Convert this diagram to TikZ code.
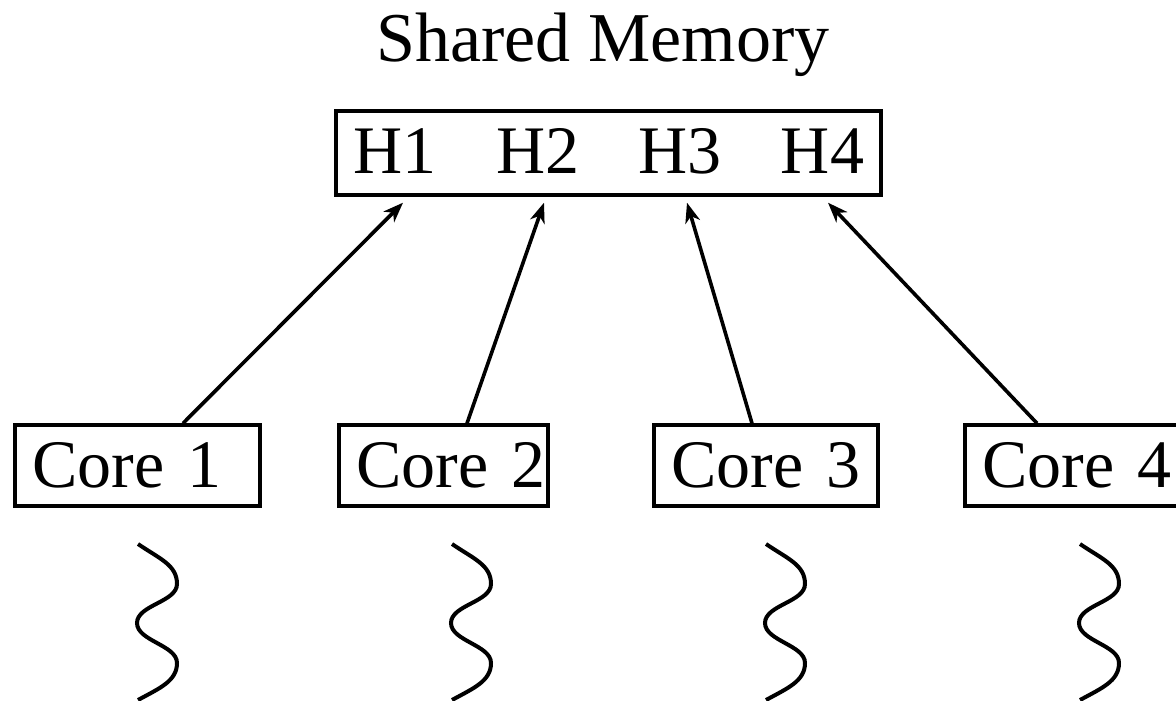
\documentclass[tikz,border=0pt]{standalone}
\usepackage{fontspec}
\setmainfont{Liberation Serif}
\usetikzlibrary{arrows.meta}

\tikzset{
  bigtext/.style={font=\fontsize{68}{80}\selectfont},
  corebox/.style={draw, line width=4pt, minimum height=81pt, inner xsep=17.5pt,
                  inner ysep=0pt, align=left, bigtext},
  memlabel/.style={anchor=base, inner sep=0pt, bigtext},
  link/.style={line width=3.6pt, -{Stealth[length=20pt,width=15pt,inset=6pt]}},
  wave/.style={line width=4pt},
  squiggle/.pic={
    \draw[wave] (0,0) .. controls (22,15) and (39,21) .. (39,40)
      .. controls (39,58) and (-1,61) .. (-1,79)
      .. controls (-1,97) and (39,101) .. (39,119)
      .. controls (39,137) and (22,144) .. (0,156);
  }
}

\begin{document}
\begin{tikzpicture}[x=1pt,y=-1pt]
  \useasboundingbox (0,0) rectangle (1176,701);

  % title
  \node[anchor=base, inner sep=0pt, font=\fontsize{70}{84}\selectfont] (title) at (603,62) {Shared Memory};

  % shared memory block with its four slots
  \node[draw, line width=4pt, minimum width=545pt, minimum height=83.4pt, inner sep=0pt] (mem) at (608.2,153) {};
  \node[memlabel] (h1) at (395.3,173) {H1};
  \node[memlabel] (h2) at (537.7,173) {H2};
  \node[memlabel] (h3) at (680.1,173) {H3};
  \node[memlabel] (h4) at (822.5,173) {H4};

  % cores
  \node[corebox, text width=210pt] (c1) at (137.5,465.8) {Core~1};
  \node[corebox, text width=174pt] (c2) at (443.25,465.8) {Core~2};
  \node[corebox, text width=189pt] (c3) at (765.75,465.8) {Core~3};
  \node[corebox, text width=205pt] (c4) at (1085,465.8) {Core~4};

  % each core writes to its own slot
  \draw[link] ([xshift=45.5pt]c1.north) -- ([shift={(-205.2,6)}]mem.south);
  \draw[link] ([xshift=23.75pt]c2.north) -- ([shift={(-64.2,6)}]mem.south);
  \draw[link] ([xshift=-13.75pt]c3.north) -- ([shift={(78.8,6)}]mem.south);
  \draw[link] ([xshift=-48pt]c4.north) -- ([shift={(219.8,6)}]mem.south);

  % threads running on each core
  \pic at (138,544) {squiggle};
  \pic at (452,544) {squiggle};
  \pic at (766,544) {squiggle};
  \pic at (1080,544) {squiggle};
\end{tikzpicture}
\end{document}
